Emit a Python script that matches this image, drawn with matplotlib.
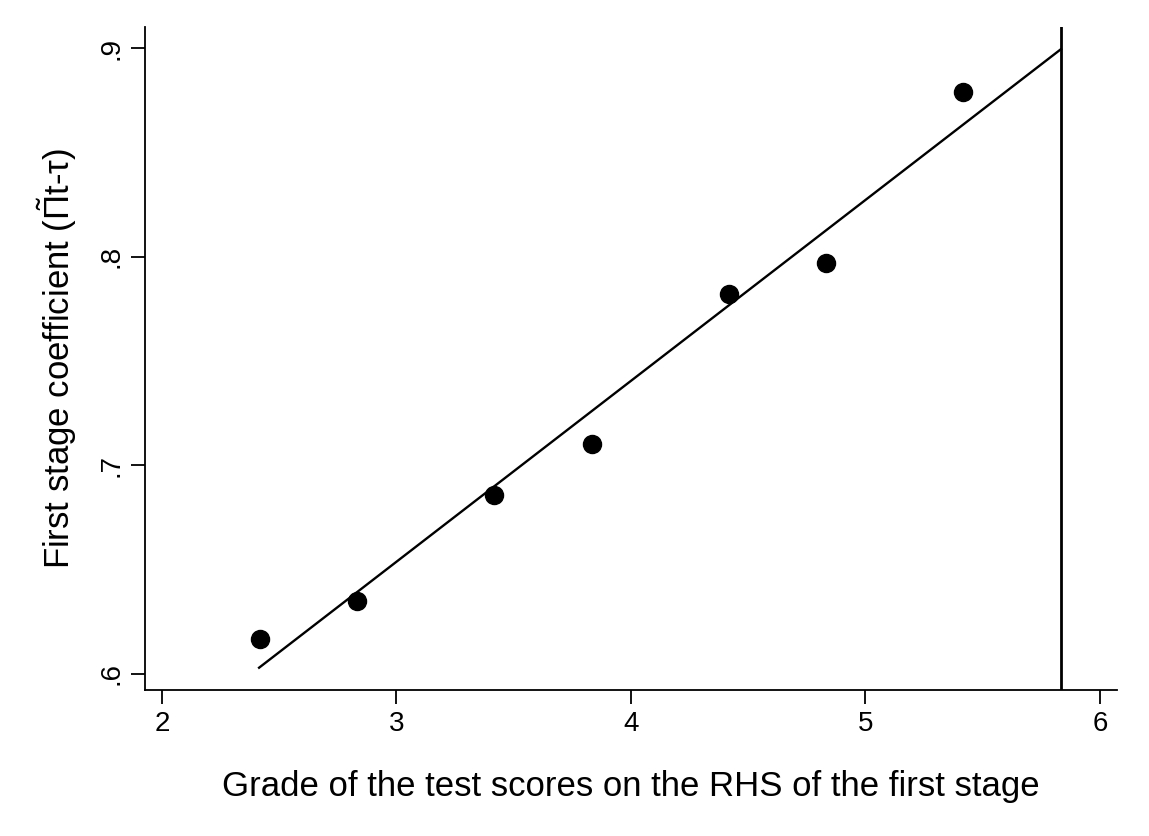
import matplotlib
matplotlib.use("Agg")
import matplotlib.pyplot as plt

plt.rcParams['font.family'] = ['Liberation Sans', 'DejaVu Sans']
plt.rcParams['mathtext.fontset'] = 'custom'
plt.rcParams['mathtext.rm'] = 'Liberation Sans'
plt.rcParams['mathtext.it'] = 'Liberation Sans'

# data
grade = [2.4167, 2.8333, 3.4167, 3.8333, 4.4167, 4.8333, 5.4167]
coef = [0.617, 0.635, 0.686, 0.710, 0.782, 0.797, 0.879]

# fitted line endpoints
fit_x = [2.414, 5.834]
fit_y = [0.603, 0.8995]

# vertical line position
vline_x = 5.834

fig = plt.figure(figsize=(11.49, 8.36), dpi=100)
ax = fig.add_axes([0.1262, 0.1746, 0.8459, 0.7931])

ax.plot(fit_x, fit_y, color='black', linewidth=1.7)
ax.plot(grade, coef, 'o', color='black', markersize=13)
ax.axvline(vline_x, color='black', linewidth=2)

ax.set_xlim(1.9275, 6.0725)
ax.set_ylim(0.5923, 0.9101)
ax.set_xticks([2, 3, 4, 5, 6])
ax.set_yticks([0.6, 0.7, 0.8, 0.9])
ax.set_yticklabels(['.6', '.7', '.8', '.9'], rotation=90, va='center')

for side in ['top', 'right']:
    ax.spines[side].set_visible(False)
for side in ['left', 'bottom']:
    ax.spines[side].set_linewidth(1.3)
ax.tick_params(axis='both', labelsize=20, length=10, width=1.3, pad=5)

ax.set_xlabel("Grade of the test scores on the RHS of the first stage", fontsize=25, labelpad=24)
ax.set_ylabel(r"First stage coefficient ($\mathrm{\tilde{\Pi}}$t-" + "\u03c4)", fontsize=25, labelpad=14)

fig.savefig("out.png", dpi=100)
